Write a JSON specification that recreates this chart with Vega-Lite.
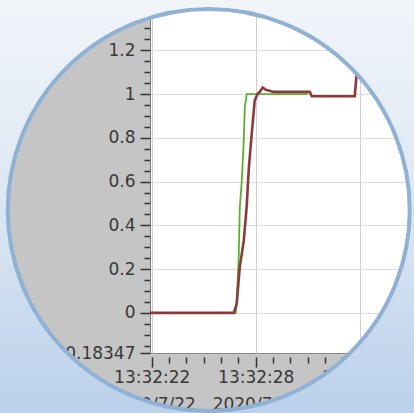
{
  "$schema": "https://vega.github.io/schema/vega-lite/v6.json",
  "width": 264,
  "height": 353,
  "autosize": {"type": "none"},
  "padding": {"left": 150, "top": 0, "right": 0, "bottom": 60},
  "background": "#c5c5c5",
  "config": {
    "view": {"fill": "#ffffff", "stroke": "#8a8a8a", "strokeWidth": 1}
  },
  "encoding": {
    "x": {
      "field": "t",
      "type": "temporal",
      "scale": {
        "domain": [
          {"year": 2020, "month": 7, "date": 22, "hours": 13, "minutes": 32, "seconds": 21, "milliseconds": 900},
          {"year": 2020, "month": 7, "date": 22, "hours": 13, "minutes": 32, "seconds": 37, "milliseconds": 130}
        ]
      },
      "axis": {
        "title": null,
        "zindex": 0,
        "offset": 4,
        "domain": false,
        "values": [
          {"year": 2020, "month": 7, "date": 22, "hours": 13, "minutes": 32, "seconds": 22},
          {"year": 2020, "month": 7, "date": 22, "hours": 13, "minutes": 32, "seconds": 23},
          {"year": 2020, "month": 7, "date": 22, "hours": 13, "minutes": 32, "seconds": 24},
          {"year": 2020, "month": 7, "date": 22, "hours": 13, "minutes": 32, "seconds": 25},
          {"year": 2020, "month": 7, "date": 22, "hours": 13, "minutes": 32, "seconds": 26},
          {"year": 2020, "month": 7, "date": 22, "hours": 13, "minutes": 32, "seconds": 27},
          {"year": 2020, "month": 7, "date": 22, "hours": 13, "minutes": 32, "seconds": 28},
          {"year": 2020, "month": 7, "date": 22, "hours": 13, "minutes": 32, "seconds": 29},
          {"year": 2020, "month": 7, "date": 22, "hours": 13, "minutes": 32, "seconds": 30},
          {"year": 2020, "month": 7, "date": 22, "hours": 13, "minutes": 32, "seconds": 31},
          {"year": 2020, "month": 7, "date": 22, "hours": 13, "minutes": 32, "seconds": 32},
          {"year": 2020, "month": 7, "date": 22, "hours": 13, "minutes": 32, "seconds": 33},
          {"year": 2020, "month": 7, "date": 22, "hours": 13, "minutes": 32, "seconds": 34},
          {"year": 2020, "month": 7, "date": 22, "hours": 13, "minutes": 32, "seconds": 35},
          {"year": 2020, "month": 7, "date": 22, "hours": 13, "minutes": 32, "seconds": 36},
          {"year": 2020, "month": 7, "date": 22, "hours": 13, "minutes": 32, "seconds": 37}
        ],
        "labelExpr": "(seconds(datum.value) - 22) % 6 == 0 ? [timeFormat(datum.value, '%H:%M:%S'), '2020/7/22\u00a0\u00a0\u00a0\u00a0'] : ''",
        "tickSize": {"condition": {"test": "(seconds(datum.value) - 22) % 6 == 0", "value": 10}, "value": 6},
        "grid": true,
        "gridColor": "#cfcfcf",
        "gridOpacity": {"condition": {"test": "(seconds(datum.value) - 22) % 6 == 0", "value": 1}, "value": 0},
        "labelFont": "DejaVu Sans",
        "labelFontSize": 17,
        "labelColor": "#383838",
        "labelPadding": 2,
        "labelLineHeight": 27,
        "labelBaseline": "top",
        "labelAlign": "center",
        "labelOverlap": false,
        "labelFlush": false,
        "tickColor": "#333333",
        "tickWidth": 1.5
      }
    },
    "y": {
      "field": "v",
      "type": "quantitative",
      "scale": {"domain": [-0.18347, 1.43], "nice": false, "zero": false},
      "axis": {
        "title": null,
        "zindex": 0,
        "values": [-0.18347, -0.15, -0.1, -0.05, 0, 0.05, 0.1, 0.15, 0.2, 0.25, 0.3, 0.35, 0.4, 0.45, 0.5, 0.55, 0.6, 0.65, 0.7, 0.75, 0.8, 0.85, 0.9, 0.95, 1, 1.05, 1.1, 1.15, 1.2, 1.25, 1.3, 1.35],
        "labelExpr": "datum.value < -0.18 ? '-0.18347' : (abs(datum.value * 5 - round(datum.value * 5)) < 0.001 ? format(datum.value, '~g') : '')",
        "tickSize": {"condition": {"test": "datum.value < -0.18 || abs(datum.value * 5 - round(datum.value * 5)) < 0.001", "value": 10}, "value": 6},
        "grid": true,
        "gridColor": "#dcdcdc",
        "gridOpacity": {"condition": {"test": "datum.value > -0.18 && abs(datum.value * 5 - round(datum.value * 5)) < 0.001", "value": 1}, "value": 0},
        "labelFont": "DejaVu Sans",
        "labelFontSize": 17,
        "labelColor": "#383838",
        "labelPadding": 5,
        "labelOverlap": false,
        "labelFlush": false,
        "domainColor": "#7a7a7a",
        "tickColor": "#333333",
        "tickWidth": 1.5
      }
    }
  },
  "layer": [
    {
      "data": {"values": [
        {"t": "2020-07-22T13:32:21.900", "v": 0},
        {"t": "2020-07-22T13:32:26.850", "v": 0},
        {"t": "2020-07-22T13:32:26.900", "v": 0.05},
        {"t": "2020-07-22T13:32:27.020", "v": 0.26},
        {"t": "2020-07-22T13:32:27.080", "v": 0.48},
        {"t": "2020-07-22T13:32:27.190", "v": 0.6},
        {"t": "2020-07-22T13:32:27.310", "v": 0.79},
        {"t": "2020-07-22T13:32:27.370", "v": 0.94},
        {"t": "2020-07-22T13:32:27.480", "v": 1.0},
        {"t": "2020-07-22T13:32:31.000", "v": 1.0}
      ]},
      "mark": {"type": "line", "color": "#5cb030", "strokeWidth": 1.8}
    },
    {
      "data": {"values": [
        {"t": "2020-07-22T13:32:21.900", "v": 0},
        {"t": "2020-07-22T13:32:26.730", "v": 0},
        {"t": "2020-07-22T13:32:26.900", "v": 0.04},
        {"t": "2020-07-22T13:32:27.080", "v": 0.21},
        {"t": "2020-07-22T13:32:27.310", "v": 0.33},
        {"t": "2020-07-22T13:32:27.480", "v": 0.49},
        {"t": "2020-07-22T13:32:27.600", "v": 0.66},
        {"t": "2020-07-22T13:32:27.770", "v": 0.82},
        {"t": "2020-07-22T13:32:27.940", "v": 0.97},
        {"t": "2020-07-22T13:32:28.100", "v": 1.0},
        {"t": "2020-07-22T13:32:28.230", "v": 1.01},
        {"t": "2020-07-22T13:32:28.400", "v": 1.03},
        {"t": "2020-07-22T13:32:28.580", "v": 1.02},
        {"t": "2020-07-22T13:32:29.040", "v": 1.01},
        {"t": "2020-07-22T13:32:31.120", "v": 1.01},
        {"t": "2020-07-22T13:32:31.230", "v": 0.99},
        {"t": "2020-07-22T13:32:33.710", "v": 0.99},
        {"t": "2020-07-22T13:32:33.830", "v": 1.1},
        {"t": "2020-07-22T13:32:33.940", "v": 1.35}
      ]},
      "mark": {"type": "line", "color": "#8b3a3a", "strokeWidth": 2.6}
    },
    {
      "data": {"values": [{"t": "2020-07-22T13:32:25.290", "v": 0.47}]},
      "mark": {
        "type": "point",
        "shape": "circle",
        "filled": false,
        "opacity": 1,
        "size": 364816,
        "strokeWidth": 200,
        "stroke": {
          "gradient": "linear",
          "x1": 0, "y1": 0, "x2": 0, "y2": 1,
          "stops": [
            {"offset": 0.15, "color": "#f2f5fa"},
            {"offset": 0.5, "color": "#dbe6f3"},
            {"offset": 0.84, "color": "#bad0eb"}
          ]
        }
      }
    },
    {
      "data": {"values": [{"t": "2020-07-22T13:32:25.290", "v": 0.47}]},
      "mark": {
        "type": "point",
        "shape": "circle",
        "filled": false,
        "opacity": 1,
        "size": 161604,
        "strokeWidth": 4,
        "stroke": "#8fb1d4"
      }
    }
  ]
}
